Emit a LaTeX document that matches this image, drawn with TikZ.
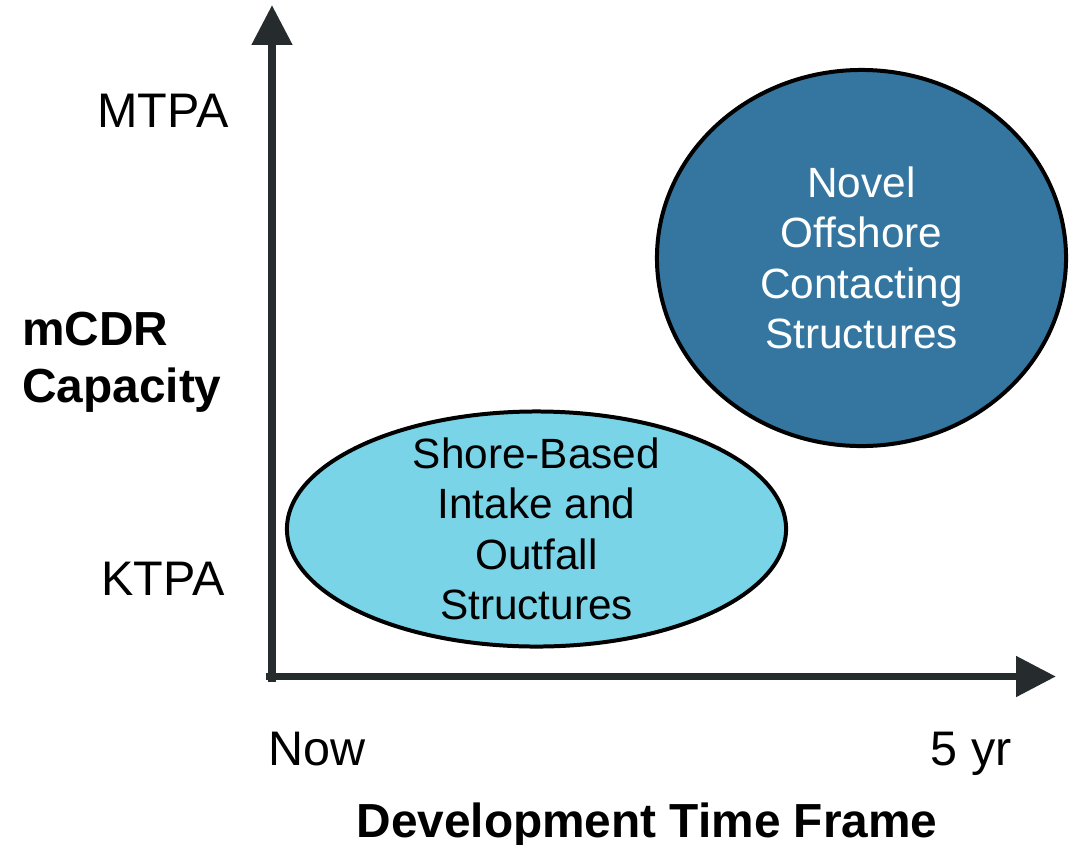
\documentclass[tikz,border=0pt]{standalone}
\usepackage{fontspec}
\setmainfont{Liberation Sans}
\usetikzlibrary{arrows.meta,shapes.geometric}

\definecolor{axisgray}{HTML}{262B2E}
\definecolor{shoreblue}{HTML}{79D4E7}
\definecolor{offshoreblue}{HTML}{34769F}

\begin{document}
\begin{tikzpicture}[
    x=0.025cm, y=-0.025cm, % one unit = one pixel of the layout
    % axes
    axis/.style={draw=axisgray, line width=5.67pt,
        -{Triangle[length=28.4pt, width=27.7pt]}},
    % labels on the axes
    ticklabel/.style={font=\fontsize{34.5}{40}\selectfont, inner sep=0pt},
    axistitle/.style={font=\fontsize{34}{40.4}\selectfont\bfseries, inner sep=0pt},
    % the two zones
    zone/.style={ellipse, draw=black, line width=2.84pt, inner sep=0pt},
    zonetext/.style={align=center, inner sep=0pt,
        font=\fontsize{30.1}{35.8}\selectfont}
]
\useasboundingbox (0,0) rectangle (1079,844);

% Axes
\coordinate (origin) at (272,676.5);
\coordinate (ytip) at (272,5);
\coordinate (xtip) at (1056,676.5);
\draw[axis] ([yshift=-4]origin) -- (ytip);
\draw[axis] ([xshift=-4]origin) -- (xtip);

% Zones
\node[zone, fill=offshoreblue, minimum width=10.225cm, minimum height=9.4cm]
    (offshore) at (861.5,258) {};
\node[zonetext, text=white] (offshoretext) at (offshore)
    {Novel\\Offshore\\Contacting\\Structures};
\node[zone, fill=shoreblue, minimum width=12.475cm, minimum height=5.875cm]
    (shore) at (536.5,529) {};
\node[zonetext] (shoretext) at (shore)
    {Shore-Based\\Intake and\\Outfall\\Structures};

% Capacity axis
\node[ticklabel, anchor=base] (mtpa) at (163,127) {MTPA};
\node[ticklabel, anchor=base] (ktpa) at (163,595) {KTPA};
\node[axistitle, anchor=base west, align=left] (capacity) at (22,402)
    {mCDR\\Capacity};

% Time axis
\node[ticklabel, anchor=base west] (now) at (268,765) {Now};
\node[ticklabel, anchor=base east] (fiveyr) at (1012,765) {5 yr};
\node[axistitle, anchor=base] (timeframe) at (647,837)
    {Development Time Frame};
\end{tikzpicture}
\end{document}
